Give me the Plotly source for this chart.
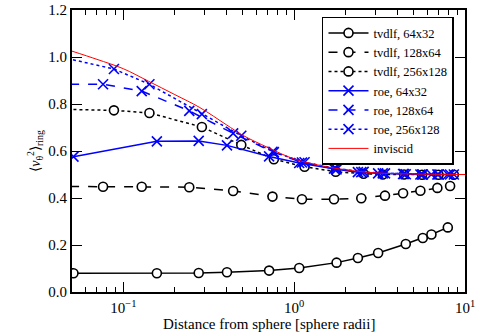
import plotly.graph_objects as go

# sample radii (in sphere radii) for each resolution
r_64 = [0.051, 0.157, 0.276, 0.404, 0.713, 1.07, 1.77, 2.36, 3.10, 4.50, 5.66, 6.36, 7.93]
r_128 = [0.030, 0.076, 0.128, 0.243, 0.439, 0.746, 1.11, 1.71, 2.47, 3.40, 4.34, 5.48, 6.89, 8.18]
r_256 = [0.040, 0.088, 0.142, 0.288, 0.490, 0.760, 1.15, 1.75, 2.55, 3.30, 4.40, 5.60, 7.00, 8.60]

tvdlf_64 = [0.080, 0.080, 0.081, 0.084, 0.091, 0.102, 0.125, 0.145, 0.166, 0.204, 0.230, 0.245, 0.275]
tvdlf_128 = [0.450, 0.448, 0.448, 0.446, 0.430, 0.406, 0.395, 0.395, 0.399, 0.410, 0.420, 0.431, 0.443, 0.451]
tvdlf_256 = [0.778, 0.773, 0.762, 0.702, 0.626, 0.565, 0.533, 0.512, 0.503, 0.500, 0.500, 0.499, 0.499, 0.499]

roe_64 = [0.576, 0.641, 0.643, 0.624, 0.577, 0.549, 0.522, 0.510, 0.505, 0.501, 0.500, 0.500, 0.500]
roe_128 = [0.884, 0.884, 0.855, 0.771, 0.675, 0.597, 0.551, 0.525, 0.510, 0.505, 0.502, 0.500, 0.500, 0.500]
roe_256 = [1.005, 0.949, 0.884, 0.757, 0.665, 0.595, 0.552, 0.526, 0.511, 0.505, 0.502, 0.500, 0.500, 0.500]

r_inv = [0.05, 0.07, 0.10, 0.14, 0.20, 0.28, 0.40, 0.50, 0.70, 1.0, 1.5, 2.0, 3.0, 5.0, 10.0]
inviscid = [1.025, 0.990, 0.950, 0.897, 0.840, 0.785, 0.712, 0.667, 0.615, 0.566, 0.535, 0.520, 0.507, 0.502, 0.500]

major_x = [0.1, 1, 10]
major_x_text = ["10<sup>−1</sup>", "10<sup>0</sup>", "10<sup>1</sup>"]
minor_x = [0.05, 0.06, 0.07, 0.08, 0.09, 0.2, 0.3, 0.4, 0.5, 0.6, 0.7, 0.8, 0.9,
           2, 3, 4, 5, 6, 7, 8, 9]

FONT = "Liberation Serif"
BLUE = "#0000ff"

fig = go.Figure()


def add_series(x, y, name, color, dash, symbol, size, fillcol):
    fig.add_trace(go.Scatter(
        x=x, y=y, name=name, mode="lines+markers",
        line=dict(color=color, width=1.5, dash=dash),
        marker=dict(symbol=symbol, size=size, color=fillcol,
                    line=dict(color=color, width=1.6)),
    ))


add_series(r_64, tvdlf_64, "tvdlf, 64x32", "black", "solid", "circle", 9, "white")
add_series(r_128, tvdlf_128, "tvdlf, 128x64", "black", "dash", "circle", 9, "white")
add_series(r_256, tvdlf_256, "tvdlf, 256x128", "black", "dot", "circle", 9, "white")
add_series(r_64, roe_64, "roe, 64x32", BLUE, "solid", "x-thin-open", 10, BLUE)
add_series(r_128, roe_128, "roe, 128x64", BLUE, "dash", "x-thin-open", 10, BLUE)
add_series(r_256, roe_256, "roe, 256x128", BLUE, "dot", "x-thin-open", 10, BLUE)

fig.add_trace(go.Scatter(x=r_inv, y=inviscid, name="inviscid", mode="lines",
                         line=dict(color="#ff0000", width=1, shape="spline")))

fig.update_layout(
    width=480, height=336,
    margin=dict(l=72, r=15, t=10, b=44, autoexpand=False),
    paper_bgcolor="white", plot_bgcolor="white",
    font=dict(family=FONT, size=14, color="black"),
    legend=dict(x=0.972, y=0.976, xanchor="right", yanchor="top",
                bordercolor="black", borderwidth=1.5, bgcolor="white",
                font=dict(size=12.5, family=FONT), tracegroupgap=0,
                itemwidth=40),
    showlegend=True,
)

fig.update_xaxes(
    type="log", range=[-1.301, 1.0], automargin=False,
    tickvals=major_x, ticktext=major_x_text, tickfont=dict(size=15),
    ticklabelstandoff=1,
    ticks="inside", ticklen=10, tickwidth=1, tickcolor="black",
    minor=dict(tickvals=minor_x, ticks="inside", ticklen=5, tickcolor="black"),
    showline=True, linewidth=2, linecolor="black", mirror="allticks",
    showgrid=False, zeroline=False,
)

# x title placed by hand so it sits just under the tick labels
fig.add_annotation(text="Distance from sphere [sphere radii]", xref="paper", yref="paper",
                   x=0.5, y=-0.114, xanchor="center", yanchor="middle",
                   showarrow=False, font=dict(size=15, family=FONT))

fig.update_yaxes(
    range=[0, 1.2], dtick=0.2, tickformat=".1f", automargin=False,
    tickfont=dict(size=15),
    ticks="inside", ticklen=10, tickwidth=1, tickcolor="black",
    showline=True, linewidth=2, linecolor="black", mirror="allticks",
    showgrid=False, zeroline=False,
    title=dict(text="⟨<i>v</i><sub>θ</sub><sup>2</sup>⟩<sub>ring</sub>", font=dict(size=14), standoff=4),
)

# the page body has a default 8px margin; drop it so the figure sits at 0,0
fig.write_html("out.html", config={"displayModeBar": False},
               post_script="document.body.style.margin='0';")
